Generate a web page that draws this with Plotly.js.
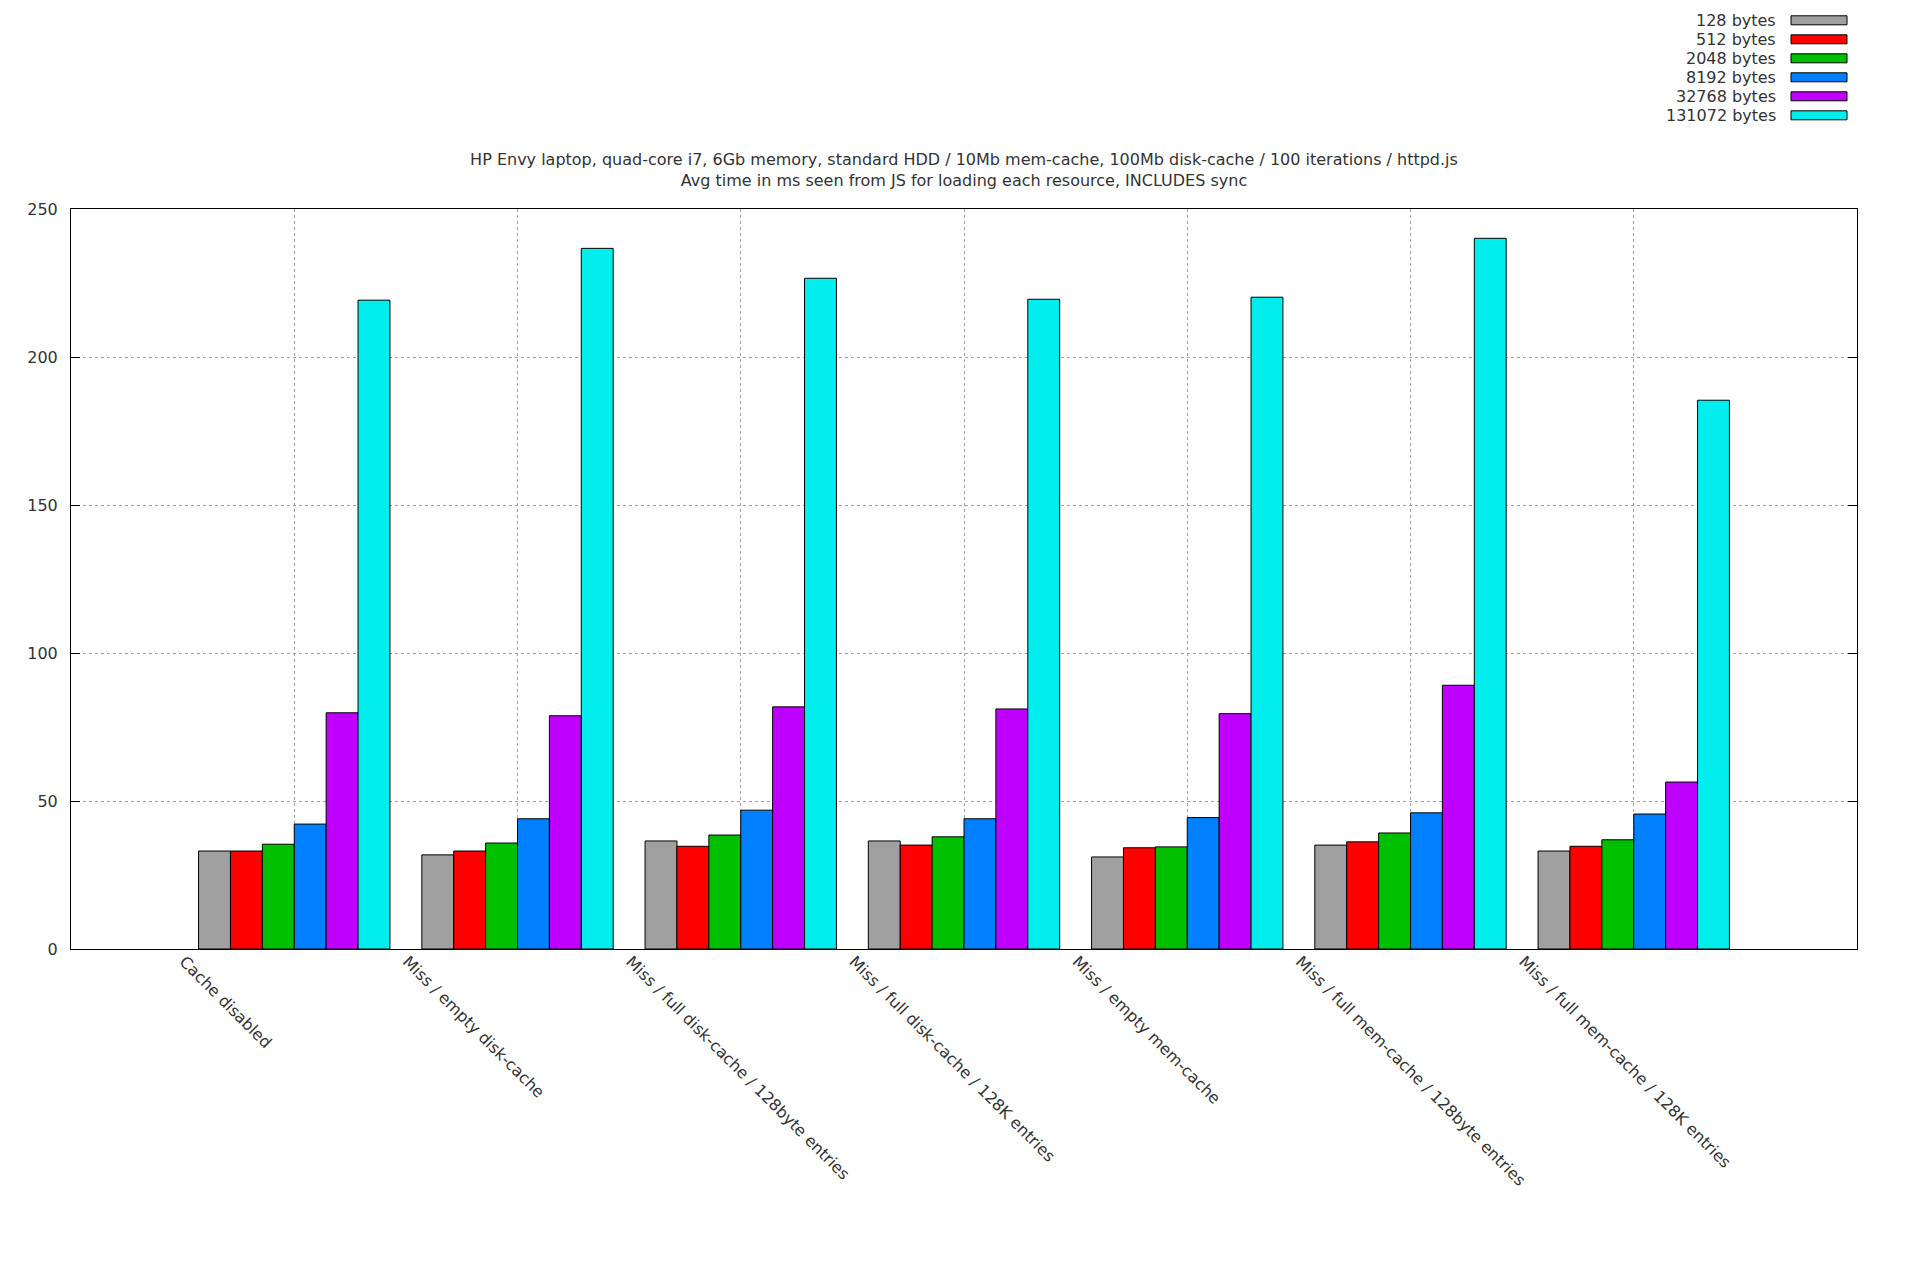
<!DOCTYPE html>
<html>
<head>
<meta charset="utf-8">
<script src="https://cdn.plot.ly/plotly-3.0.1.min.js"></script>
<style>
  body { margin: 0; background: #fff; }
  #tester { width: 1920px; height: 1280px; }
</style>
</head>
<body>
<div id="tester"></div>
<script>
var categorias = [
  'Cache disabled',
  'Miss / empty disk-cache',
  'Miss / full disk-cache / 128byte entries',
  'Miss / full disk-cache / 128K entries',
  'Miss / empty mem-cache',
  'Miss / full mem-cache / 128byte entries',
  'Miss / full mem-cache / 128K entries'
];
var nombres = ['128 bytes', '512 bytes', '2048 bytes', '8192 bytes', '32768 bytes', '131072 bytes'];
var colores = ['#a0a0a0', '#ff0000', '#00c000', '#0080ff', '#c000ff', '#00eeee'];

var b128    = [33.1, 31.8, 36.5, 36.5, 31.1, 35.1, 33.1];
var b512    = [33.1, 33.1, 34.7, 35.1, 34.2, 36.2, 34.7];
var b2048   = [35.4, 35.8, 38.5, 37.9, 34.5, 39.2, 36.9];
var b8192   = [42.2, 44.0, 46.9, 44.0, 44.4, 46.0, 45.6];
var b32768  = [79.8, 78.8, 81.8, 81.1, 79.5, 89.1, 56.4];
var b131072 = [219.2, 236.7, 226.6, 219.5, 220.2, 240.1, 185.4];

var series = [b128, b512, b2048, b8192, b32768, b131072];

// plot box in pixels
var L = 71, R = 1857, T = 209, B = 949;
function px(x) { return (x - L) / (R - L); }
function py(y) { return (B - y) / (B - T); }

var fuente = { family: 'DejaVu Sans', size: 16, color: '#333' };

var data = [];
for (var i = 0; i < series.length; i++) {
  data.push({
    type: 'bar',
    name: nombres[i],
    x: categorias,
    y: series[i],
    marker: { color: colores[i], line: { color: '#000', width: 1 } },
    showlegend: false
  });
}

// legend drawn by hand: text on the left, wide swatch on the right
var anotaciones = [];
var formas = [];
for (var i = 0; i < nombres.length; i++) {
  var cy = 20.3 + i * 19;
  anotaciones.push({
    xref: 'paper', yref: 'paper',
    x: px(1778), y: py(cy),
    xanchor: 'right', yanchor: 'middle',
    text: nombres[i], showarrow: false,
    font: fuente
  });
  formas.push({
    type: 'rect', xref: 'paper', yref: 'paper',
    x0: px(1791), x1: px(1847), y0: py(cy - 4.5), y1: py(cy + 4.5),
    fillcolor: colores[i], line: { color: '#000', width: 1 }
  });
}

var layout = {
  width: 1920, height: 1280,
  margin: { l: L, r: 1920 - R, t: T, b: 1280 - B, pad: 0 },
  paper_bgcolor: '#fff', plot_bgcolor: '#fff',
  font: fuente,
  title: {
    text: 'HP Envy laptop, quad-core i7, 6Gb memory, standard HDD / 10Mb mem-cache, 100Mb disk-cache / 100 iterations / httpd.js<br>Avg time in ms seen from JS for loading each resource, INCLUDES sync',
    x: 0.5, xref: 'paper', xanchor: 'center',
    y: 1 - 165 / 1280, yref: 'container', yanchor: 'middle',
    font: fuente
  },
  barmode: 'group',
  bargap: 1 / 7,
  bargroupgap: 0,
  xaxis: {
    type: 'category',
    range: [-1, 7],
    showline: true, linecolor: '#000', linewidth: 1, mirror: true,
    ticks: '',
    showgrid: true, gridcolor: '#a0a0a0', gridwidth: 1, griddash: '3px,3px',
    tickangle: 45,
    ticklabelshift: -110,
    ticklabelstandoff: -4,
    tickfont: fuente
  },
  yaxis: {
    range: [0, 250], dtick: 50,
    showline: true, linecolor: '#000', linewidth: 1, mirror: 'ticks',
    ticks: 'inside', ticklen: 9, tickcolor: '#000', tickwidth: 1,
    showgrid: true, gridcolor: '#a0a0a0', gridwidth: 1, griddash: 'dot',
    zeroline: false,
    ticklabelstandoff: 9,
    tickfont: fuente
  },
  annotations: anotaciones,
  shapes: formas
};

Plotly.newPlot('tester', data, layout, { displayModeBar: false, staticPlot: true });
</script>
</body>
</html>
